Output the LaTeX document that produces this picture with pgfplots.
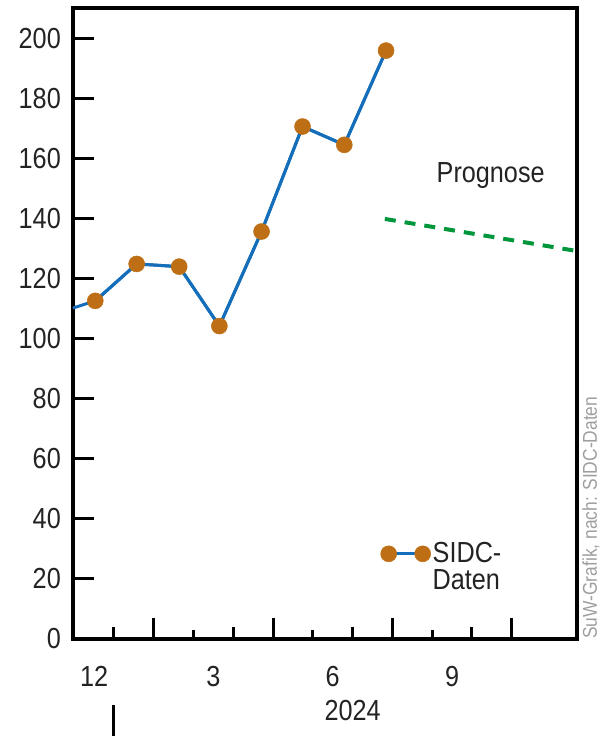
\documentclass[border=0pt]{standalone}
\usepackage{fontspec}
\setmainfont{Liberation Sans}[FakeStretch=0.87]
\usepackage{pgfplots}
\pgfplotsset{compat=1.18}
\definecolor{sidcblue}{RGB}{20,110,185}
\definecolor{sidcorange}{RGB}{190,110,20}
\definecolor{proggreen}{RGB}{0,150,60}
\definecolor{txt}{RGB}{35,35,35}
\tikzset{month/.style={anchor=base, font=\fontsize{29}{30}\selectfont, text=txt}}
\begin{document}
\begin{tikzpicture}
\useasboundingbox (-73pt,-97pt) rectangle (533pt,639pt);
\begin{axis}[
    scale only axis,
    width=504pt, height=631pt,
    xmin=-0.53, xmax=12.14,
    ymin=0, ymax=210.3,
    clip=false,
    axis line style={line width=3.5pt},
    every tick/.style={black, line width=3pt},
    major tick length=21pt,
    minor tick length=12pt,
    xtick pos=bottom, ytick pos=left,
    ytick={0,20,...,200},
    xtick={1.5,4.5,7.5,10.5},
    minor xtick={0.5,3.5,6.5,9.5},
    extra x ticks={2.5,5.5,8.5},
    extra x tick labels={},
    extra x tick style={major tick length=9pt},
    xticklabels={},
    /pgf/number format/assume math mode=true,
    tick label style={font=\fontsize{29}{30}\selectfont, text=txt},
    yticklabel style={inner sep=0pt, xshift=-12pt},
    legend image code/.code={\draw[#1, yshift=13pt] plot coordinates {(0pt,0pt) (34pt,0pt)};},
    legend style={draw=none, fill=none, inner sep=0pt,
        at={(axis cs:7.2,15.2)}, anchor=south west,
        font=\fontsize{29}{27}\selectfont, text=txt,
        cells={align=left, anchor=west}},
]
% SIDC-Daten, Linie beginnt am linken Rand
\addplot[sidcblue, line width=3pt, forget plot] coordinates {
    (-0.53,110.3) (0.03,112.7) (1.07,125.0) (2.14,124.1) (3.15,104.3)
    (4.21,135.8) (5.24,170.8) (6.29,164.7) (7.34,196.1)
};
\addplot[sidcblue, line width=3pt, mark=*, mark size=8pt,
    mark options={draw=sidcorange, fill=sidcorange, line width=0.5pt}] coordinates {
    (0.03,112.7) (1.07,125.0) (2.14,124.1) (3.15,104.3)
    (4.21,135.8) (5.24,170.8) (6.29,164.7) (7.34,196.1)
};
\addlegendentry{SIDC-\\Daten}
% Prognose
\addplot[proggreen, line width=4pt, dash pattern=on 11pt off 9pt, forget plot]
    coordinates {(7.31,140.0) (12.14,129.3)};

\node[month] at (axis cs:9.97,152) {Prognose};

% Monatsbeschriftung
\node[month] at (axis cs:0,-15.7) {12};
\node[month] at (axis cs:3,-15.7) {3};
\node[month] at (axis cs:6,-15.7) {6};
\node[month] at (axis cs:9,-15.7) {9};
\node[month] at (axis cs:6.5,-27) {2024};
\draw[line width=3pt] (axis cs:0.5,0) ++(0pt,-66pt) -- ++(0pt,-31pt);

\node[rotate=90, anchor=west, inner sep=0pt, font=\fontsize{20}{22}\selectfont, text=gray!75]
    at ([xshift=14pt]rel axis cs:1,0) {SuW-Grafik, nach: SIDC-Daten};
\end{axis}
\end{tikzpicture}
\end{document}
